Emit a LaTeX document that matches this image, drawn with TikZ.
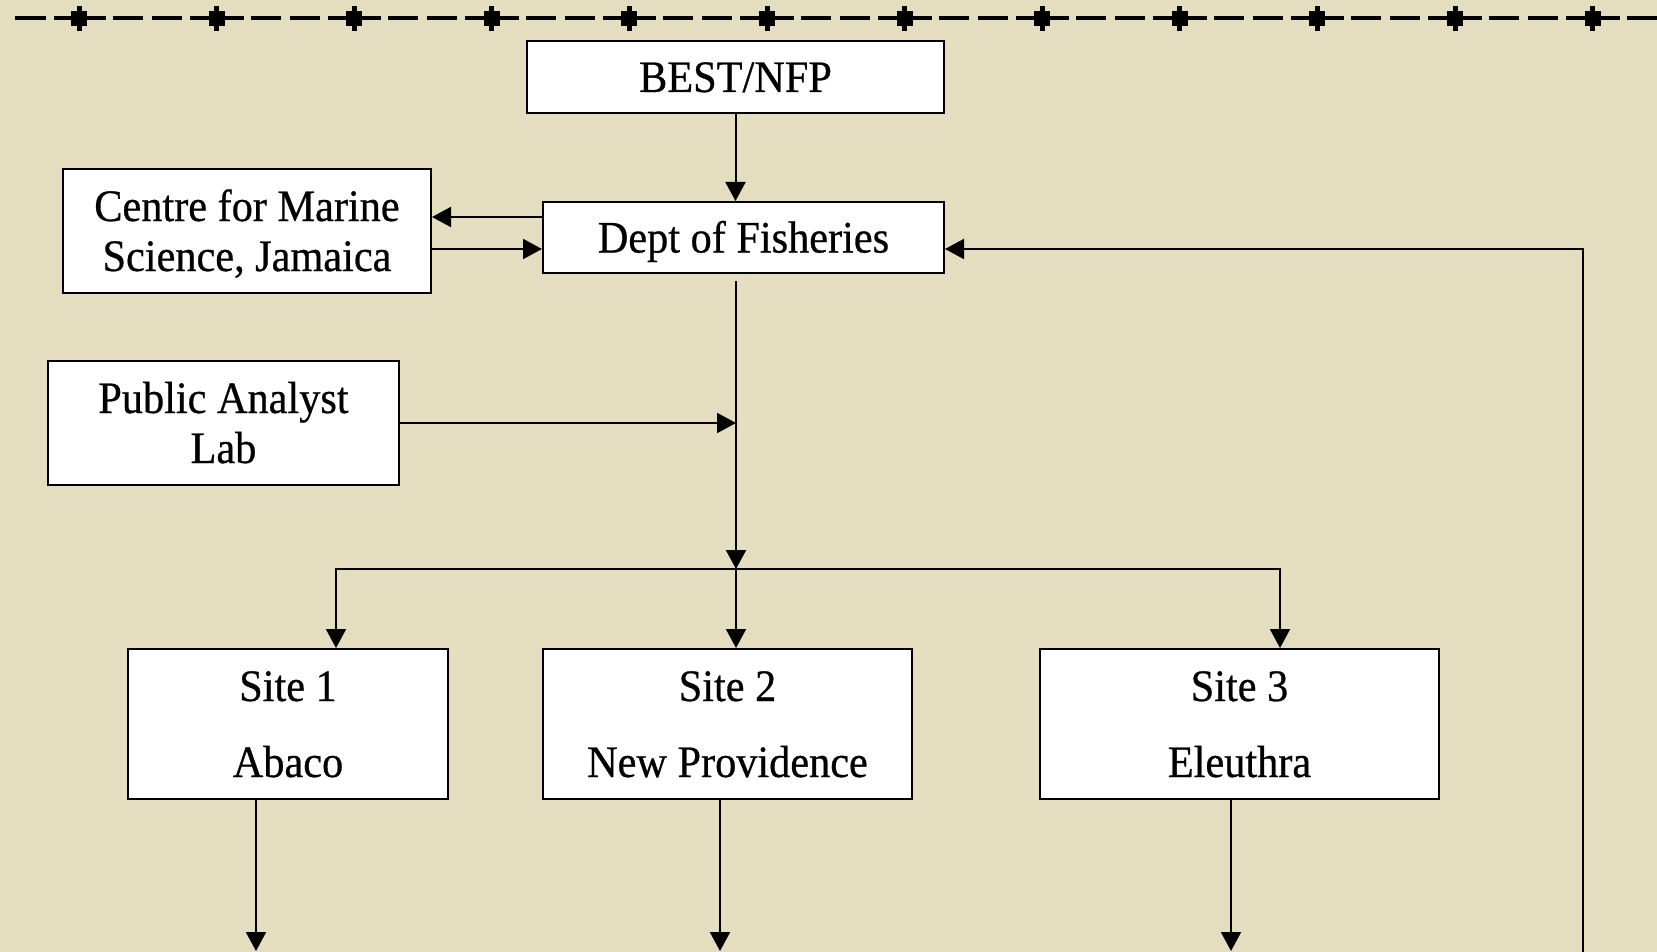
\documentclass[tikz,border=0pt]{standalone}
\usepackage{fontspec}
\setmainfont{Liberation Serif}[FakeStretch=0.94,FakeBold=0.6]
\usetikzlibrary{arrows.meta,positioning}
\definecolor{paper}{RGB}{228,221,191}
\newcommand{\boxfont}{\fontsize{45}{50}\selectfont}

\tikzset{
  orgbox/.style={ draw, fill=white, line width=2pt, inner sep=0pt, align=center, font=\boxfont,
    text height=30pt, text depth=0pt }
}
\tikzset{
  twoline/.style={ orgbox, minimum height=124pt, text height=80pt }
}
\tikzset{
  sitebox/.style={ orgbox, minimum height=150pt, text height=106pt }
}
\tikzset{
  arr/.style={ line width=2pt, -{Triangle[length=19pt,width=20pt]} }
}

\begin{document}
\begin{tikzpicture}[x=1pt,y=-1pt]
      \fill[paper] (0,0) rectangle (1657,952);
      \useasboundingbox (0,0) rectangle (1657,952);

      % top rule
      \draw[line width=4pt] (15,18) -- (46,18) (54,18) -- (71,18);
      \foreach \i in {0,...,11}{
        \pgfmathsetmacro\c{79+137.6*\i}
        \draw[line width=4pt] (\c+8,18) -- (\c+27,18) (\c+34,18) -- (\c+64,18)
          (\c+73,18) -- (\c+103,18) (\c+111,18) -- (\c+129.6,18);
        \fill (\c-8,11) rectangle (\c+8,26);
        \fill (\c-2.5,6) rectangle (\c+2.5,31);
      }

      \node[orgbox, minimum width=417pt, minimum height=72pt] (best) at (735.5,77) {BEST/NFP};
      \node[orgbox, minimum width=401pt, minimum height=71pt] (dept) at (743.5,237.5) {Dept of Fisheries};
      \node[twoline, minimum width=368pt] (cms) at (247,231) {Centre for Marine\\Science, Jamaica};
      \node[twoline, minimum width=351pt] (pal) at (223.5,423) {Public Analyst\\Lab};

      \node[sitebox, minimum width=320pt] (site1) at (288,724) {Site 1\\[26pt]Abaco};
      \node[sitebox, minimum width=369pt] (site2) at (727.5,724) {Site 2\\[26pt]New Providence};
      \node[sitebox, minimum width=399pt] (site3) at (1239.5,724) {Site 3\\[26pt]Eleuthra};

      \coordinate (hub) at (736,569);
      \coordinate (br1) at (336,569);
      \coordinate (br3) at (1280,569);
      \coordinate (out1) at (256,951);
      \coordinate (out2) at (720,951);
      \coordinate (out3) at (1231,951);
      \coordinate (back) at (1583,960);

      \draw[arr] (best) -- (best.south |- dept.north);
      \draw[arr] ([yshift=20.5pt]dept.west) -- ([yshift=20.5pt]dept.west -| cms.east);
      \draw[arr] ([yshift=-11.5pt]dept.west -| cms.east) -- ([yshift=-11.5pt]dept.west);
      \draw[arr, shorten <=7pt] (dept.south -| hub) -- (hub);
      \draw[arr] (pal.east) -- (pal.east -| hub);

      \draw[arr] (hub) -- (br1) -- (br1 |- site1.north);
      \draw[arr] (hub) -- (hub |- site2.north);
      \draw[arr] (hub) -- (br3) -- (br3 |- site3.north);

      \draw[arr] (out1 |- site1.south) -- (out1);
      \draw[arr] (out2 |- site2.south) -- (out2);
      \draw[arr] (out3 |- site3.south) -- (out3);
      \draw[arr] (back) |- ([yshift=-11.5pt]dept.east);
\end{tikzpicture}
\end{document}
